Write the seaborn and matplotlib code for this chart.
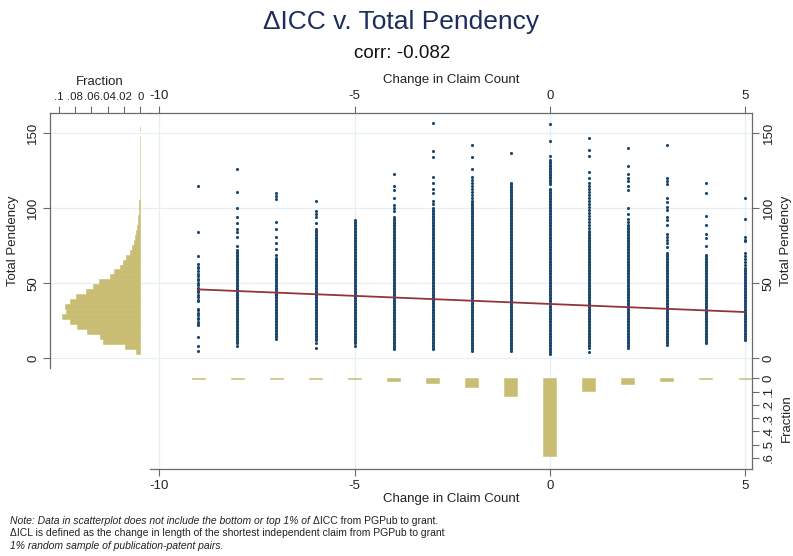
import numpy as np
import pandas as pd
import matplotlib
matplotlib.use("Agg")
import matplotlib.pyplot as plt
import seaborn as sns

# ------------------------- data -------------------------
title_text = "ΔICC v. Total Pendency"
subtitle_text = "corr: -0.082"
x_label = "Change in Claim Count"
y_label = "Total Pendency"
frac_label = "Fraction"

claim_ticks = [-10, -5, 0, 5]
pend_ticks = [0, 50, 100, 150]
left_frac_ticks = [0.1, 0.08, 0.06, 0.04, 0.02, 0]
left_frac_labels = [".1", ".08", ".06", ".04", ".02", "0"]
bot_frac_ticks = [0, .1, .2, .3, .4, .5, .6]
bot_frac_labels = ["0", ".1", ".2", ".3", ".4", ".5", ".6"]

# scatter: per change-in-claim-count column, solid (every value) runs + sparse points
scatter_cols = [-9, -8, -7, -6, -5, -4, -3, -2, -1, 0, 1, 2, 3, 4, 5]
dense_ranges = {
    -9: [],
    -8: [(10, 72)],
    -7: [(13, 67)],
    -6: [(12, 86)],
    -5: [(10, 92)],
    -4: [(6, 94)],
    -3: [(6, 100)],
    -2: [(5, 105)],
    -1: [(5, 117)],
    0: [(3, 113), (116, 132)],
    1: [(7, 84)],
    2: [(7, 89)],
    3: [(9, 70)],
    4: [(10, 69)],
    5: [(12, 60)],
}
sparse_points = {
    -9: [115, 84, 68, 63, 61, 60, 58, 56, 55, 53, 52, 50, 49, 47, 46, 45, 44, 42,
         41, 39, 38, 33, 32, 30, 29, 27, 26, 24, 23, 22, 14, 8, 5],
    -8: [126, 111, 100, 94, 90, 86, 84, 81, 75, 8],
    -7: [110, 108, 106, 91, 86, 81, 77, 73, 69],
    -6: [105, 98, 96, 94, 90, 10, 7],
    -5: [8],
    -4: [123, 115, 112, 107, 102, 100, 98],
    -3: [157, 138, 134, 121, 117, 113, 110, 105, 103],
    -2: [142, 134, 126, 121, 119, 117, 115, 113, 111, 109, 107],
    -1: [137],
    0: [156, 145, 135],
    1: [147, 139, 135, 124, 120, 117, 115, 113, 111, 109, 107, 105, 103, 101, 99,
        97, 95, 93, 91, 89, 87, 85, 4],
    2: [140, 128, 123, 120, 118, 115, 112, 100, 96, 93, 91],
    3: [142, 120, 118, 116, 107, 104, 101, 99, 94, 92, 89, 83, 81, 79, 77, 74],
    4: [117, 110, 95, 89, 83, 80, 75],
    5: [107, 93, 81, 79, 78, 70, 68, 66, 64, 62],
}

# fitted line
fit_x = [-9, 5]
fit_y = [45.9, 30.8]

# bottom histogram: fraction by change in claim count
claim_values = [-9, -8, -7, -6, -5, -4, -3, -2, -1, 0, 1, 2, 3, 4, 5]
claim_frac = [0.006, 0.006, 0.006, 0.006, 0.007, 0.017, 0.033, 0.069, 0.133,
              0.585, 0.094, 0.043, 0.017, 0.007, 0.006]

# left histogram: fraction by total pendency
pend_bin_centers = [4.75, 8.05, 11.35, 14.65, 17.95, 21.25, 24.55, 27.85, 31.15,
                    34.45, 37.75, 41.05, 44.35, 47.65, 50.95, 54.25, 57.55, 60.85,
                    64.15, 67.45, 70.75, 74.05, 77.35, 80.65, 83.95, 87.25, 90.55,
                    93.85, 97.15, 100.45, 103.75, 107.05, 110.35, 113.65, 116.95,
                    120.25, 123.55, 126.85, 130.15, 133.45, 136.75, 140.05, 143.35,
                    146.65, 153.25]
pend_bin_frac = [0.005, 0.019, 0.046, 0.050, 0.066, 0.078, 0.086, 0.096, 0.091,
                 0.093, 0.087, 0.079, 0.067, 0.058, 0.051, 0.037, 0.032, 0.025,
                 0.021, 0.017, 0.013, 0.010, 0.008, 0.006, 0.005, 0.004, 0.003,
                 0.0025, 0.002, 0.0015, 0.0012, 0.001, 0.0008, 0.0007, 0.0006,
                 0.0005, 0.0004, 0.0004, 0.0003, 0.0003, 0.0003, 0.0002, 0.0002,
                 0.0002, 0.0003]
pend_binwidth = 3.3
pend_binstart = 3.1

# ------------------------- build frame -------------------------
rows = []
for c in scatter_cols:
    for lo, hi in dense_ranges[c]:
        for v in range(lo, hi + 1):
            rows.append((c, v))
    for v in sparse_points[c]:
        rows.append((c, v))
df = pd.DataFrame(rows, columns=["claim", "pend"])

# ------------------------- style -------------------------
sns.set_style("white")
plt.rcParams["font.family"] = ["Liberation Sans", "DejaVu Sans"]
plt.rcParams["axes.unicode_minus"] = False

NAVY = "#1a476f"
MAROON = "#90353b"
KHAKI = "#c9bd74"
GRID = "#e6eff1"
SPINE = "#6a6a6a"
TXT = "#222222"
FS = 9.5

W, H = 793, 556
fig = plt.figure(figsize=(W / 100, H / 100), dpi=100)


def ax_px(l, t, r, b):
    return fig.add_axes([l / W, 1 - b / H, (r - l) / W, (b - t) / H])


ax_main = ax_px(150, 113, 752, 368)
ax_left = ax_px(50, 113, 150, 368)
ax_bot = ax_px(150, 368, 752, 469)

# ---- main scatter ----
sns.scatterplot(data=df, x="claim", y="pend", ax=ax_main, s=5, color=NAVY,
                linewidth=0, legend=False, zorder=2)
sns.lineplot(x=fit_x, y=fit_y, ax=ax_main, color=MAROON, linewidth=1.3, zorder=3)

# ---- left histogram ----
sns.histplot(y=pend_bin_centers, weights=pend_bin_frac, binwidth=pend_binwidth,
             binrange=(pend_binstart, pend_binstart + 47 * pend_binwidth),
             ax=ax_left, color=KHAKI, alpha=1, edgecolor=KHAKI, linewidth=0.4)
for p in ax_left.patches:
    if p.get_width() <= 0:
        p.set_visible(False)

# ---- bottom histogram ----
sns.histplot(x=claim_values, weights=claim_frac, discrete=True, shrink=0.33,
             ax=ax_bot, color=KHAKI, alpha=1, edgecolor=KHAKI, linewidth=0.4)

# ---- limits ----
ax_main.set_xlim(-10.24, 5.18)
ax_main.set_ylim(-6.5, 163.5)
ax_left.set_ylim(-6.5, 163.5)
ax_left.set_xlim(0.111, -0.0119)
ax_bot.set_xlim(-10.24, 5.18)
ax_bot.set_ylim(0.683, -0.0776)

for ax in (ax_main, ax_left, ax_bot):
    ax.set_axisbelow(True)
    for s in ax.spines.values():
        s.set_color(SPINE)
        s.set_linewidth(0.9)
        s.set_visible(False)
    ax.tick_params(direction="out", length=4.8, width=0.8, color=SPINE,
                   labelsize=FS, labelcolor=TXT, pad=3)

# main
ax_main.spines["top"].set_visible(True)
ax_main.spines["right"].set_visible(True)
ax_main.set_xticks(claim_ticks)
ax_main.set_yticks(pend_ticks)
ax_main.tick_params(axis="x", top=True, labeltop=True, bottom=False, labelbottom=False)
ax_main.tick_params(axis="y", right=True, labelright=True, left=False, labelleft=False,
                    labelrotation=90)
ax_main.xaxis.set_label_position("top")
ax_main.yaxis.set_label_position("right")
ax_main.set_xlabel(x_label, fontsize=FS, color=TXT, labelpad=5)
ax_main.set_ylabel(y_label, fontsize=FS, color=TXT, labelpad=4)
ax_main.grid(True, color=GRID, linewidth=0.9)
for lbl in ax_main.get_yticklabels():
    lbl.set_va("center")

# left
ax_left.spines["top"].set_visible(True)
ax_left.spines["left"].set_visible(True)
ax_left.set_xticks(left_frac_ticks)
ax_left.set_xticklabels(left_frac_labels)
ax_left.set_yticks(pend_ticks)
ax_left.tick_params(axis="x", top=True, labeltop=True, bottom=False, labelbottom=False,
                    labelsize=8.2)
ax_left.tick_params(axis="y", left=True, labelleft=True, right=False, labelright=False,
                    labelrotation=90)
ax_left.xaxis.set_label_position("top")
ax_left.set_xlabel(frac_label, fontsize=FS, color=TXT, labelpad=5)
ax_left.set_ylabel(y_label, fontsize=FS, color=TXT, labelpad=6)
ax_left.grid(True, axis="y", color=GRID, linewidth=0.9)
ax_left.grid(False, axis="x")
for lbl in ax_left.get_yticklabels():
    lbl.set_va("center")

# bottom
ax_bot.spines["bottom"].set_visible(True)
ax_bot.spines["right"].set_visible(True)
ax_bot.set_xticks(claim_ticks)
ax_bot.set_yticks(bot_frac_ticks)
ax_bot.set_yticklabels(bot_frac_labels)
ax_bot.tick_params(axis="x", bottom=True, labelbottom=True, top=False, labeltop=False)
ax_bot.tick_params(axis="y", right=True, labelright=True, left=False, labelleft=False,
                   labelrotation=90)
ax_bot.yaxis.set_label_position("right")
ax_bot.set_xlabel(x_label, fontsize=FS, color=TXT, labelpad=1)
ax_bot.set_ylabel(frac_label, fontsize=FS, color=TXT, labelpad=4)
ax_bot.grid(True, axis="x", color=GRID, linewidth=0.9)
ax_bot.grid(False, axis="y")
for lbl in ax_bot.get_yticklabels():
    lbl.set_va("center")

# ---- titles ----
fig.text(401 / W, 1 - 21.5 / H, title_text, ha="center", va="center",
         fontsize=19, color="#1c2d5c")
fig.text(402 / W, 1 - 53 / H, subtitle_text, ha="center", va="center",
         fontsize=13.5, color="#111111")

# ---- notes ----
NFS = 7.5
t1 = fig.text(10 / W, 1 - 521 / H,
              "Note: Data in scatterplot does not include the bottom or top 1% of ",
              style="italic", fontsize=NFS, va="center", color=TXT)
fig.canvas.draw()
bb = t1.get_window_extent(renderer=fig.canvas.get_renderer())
fig.text(bb.x1 / W, 1 - 521 / H, "ΔICC from PGPub to grant.", fontsize=NFS,
         va="center", color=TXT)
fig.text(10 / W, 1 - 533.5 / H,
         "ΔICL is defined as the change in length of the shortest independent claim from PGPub to grant",
         fontsize=NFS, va="center", color=TXT)
fig.text(10 / W, 1 - 546 / H, "1% random sample of publication-patent pairs.",
         style="italic", fontsize=NFS, va="center", color=TXT)

fig.savefig("out.png", dpi=100)
